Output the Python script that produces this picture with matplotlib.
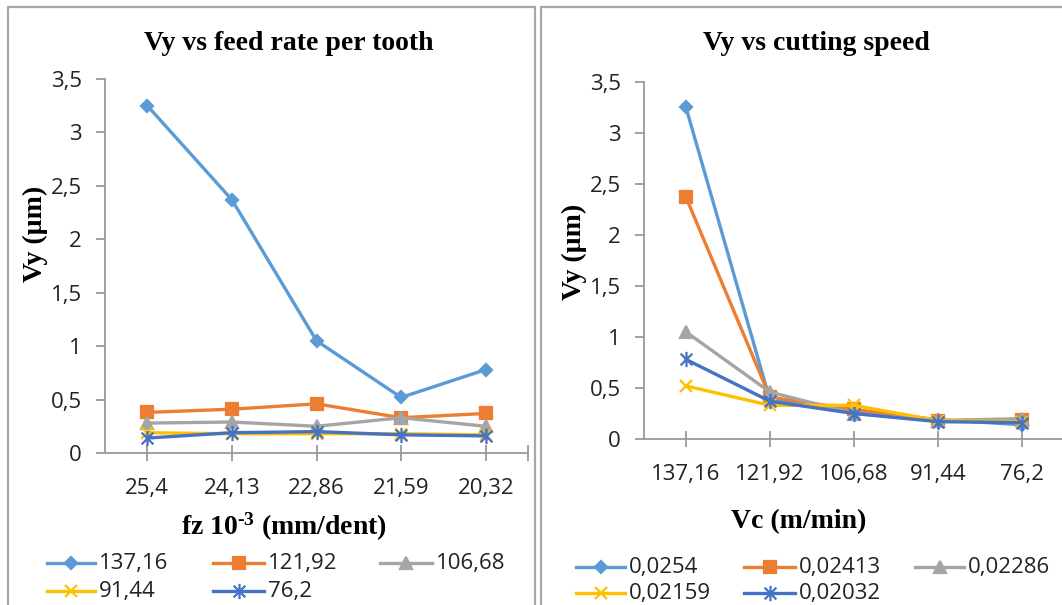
import matplotlib
matplotlib.use("Agg")
import matplotlib.pyplot as plt
from matplotlib.lines import Line2D
from matplotlib.patches import Rectangle
from matplotlib.path import Path

# ---- data -------------------------------------------------------------
feed_labels = ["25,4", "24,13", "22,86", "21,59", "20,32"]
speed_labels = ["137,16", "121,92", "106,68", "91,44", "76,2"]
feed_series_names = ["0,0254", "0,02413", "0,02286", "0,02159", "0,02032"]

# Vy (µm) for each cutting speed, across the feed rates
vy_137_16 = [3.25, 2.37, 1.05, 0.52, 0.78]
vy_121_92 = [0.38, 0.41, 0.46, 0.33, 0.37]
vy_106_68 = [0.28, 0.29, 0.25, 0.33, 0.25]
vy_91_44 = [0.19, 0.18, 0.18, 0.18, 0.17]
vy_76_2 = [0.14, 0.19, 0.20, 0.17, 0.16]

speed_series = [vy_137_16, vy_121_92, vy_106_68, vy_91_44, vy_76_2]
# the same measurements grouped by feed rate (one line per feed rate)
feed_series = [list(col) for col in zip(*speed_series)]

# ---- styling ------------------------------------------------------------
W, H = 1062, 605
colors = ["#5B9BD5", "#ED7D31", "#A5A5A5", "#FFC000", "#4472C4"]
star = Path([(-1, -1), (1, 1), (-1, 1), (1, -1), (0, -1.3), (0, 1.3)],
            [Path.MOVETO, Path.LINETO] * 3)
markers = ["D", "s", "^", "x", star]
msizes = [6.5, 8, 8, 8.5, 11]
axis_gray = "#9a9a9a"
serif = "Liberation Serif"
sans = "Open Sans"
TICK_FS = 16

plt.rcParams["mathtext.fontset"] = "custom"
plt.rcParams["mathtext.rm"] = "Liberation Serif:bold"
plt.rcParams["mathtext.bf"] = "Liberation Serif:bold"
plt.rcParams["mathtext.it"] = "Liberation Serif:bold"

fig = plt.figure(figsize=(W / 100, H / 100), dpi=100)


def fx(px):
    return px / W


def fy(py):
    return 1 - py / H


# chart-area frames
for x0, x1 in [(8, 535), (541, 1075)]:
    fig.add_artist(Rectangle((fx(x0), fy(620)), fx(x1 - x0), (620 - 7) / H,
                             transform=fig.transFigure, fill=False,
                             edgecolor="#a8a8a8", linewidth=1.6))


def style_axes(ax, labels):
    for s in ["top", "right"]:
        ax.spines[s].set_visible(False)
    for s in ["left", "bottom"]:
        ax.spines[s].set_color(axis_gray)
        ax.spines[s].set_linewidth(1.3)
    ax.set_xlim(-0.5, 4.5)
    ax.set_ylim(0, 3.5)
    ax.set_yticks([0, 0.5, 1, 1.5, 2, 2.5, 3, 3.5])
    ax.set_yticklabels(["0", "0,5", "1", "1,5", "2", "2,5", "3", "3,5"])
    ax.set_xticks(range(5))
    ax.set_xticklabels(labels)
    ax.tick_params(axis="y", direction="out", length=6.5, width=1.3,
                   color=axis_gray, pad=10, labelsize=TICK_FS,
                   labelcolor="#222222")
    ax.tick_params(axis="x", direction="inout", length=12, width=1.3,
                   color=axis_gray, pad=12, labelsize=TICK_FS,
                   labelcolor="#222222")
    for t in ax.get_xticklabels() + ax.get_yticklabels():
        t.set_fontfamily(sans)
    ax.patch.set_alpha(0)


def draw_lines(ax, series):
    for i, vals in enumerate(series):
        ax.plot(range(5), vals, color=colors[i], linewidth=2.4,
                marker=markers[i], markersize=msizes[i],
                markerfacecolor=colors[i], markeredgecolor=colors[i],
                markeredgewidth=1.6, zorder=3 + i, clip_on=False)


def legend_key(i, x0, x1, y, text):
    line = Line2D([fx(x0), fx(x1)], [fy(y), fy(y)], transform=fig.transFigure,
                  color=colors[i], linewidth=2.4)
    fig.add_artist(line)
    mk = Line2D([fx((x0 + x1) / 2)], [fy(y)], transform=fig.transFigure,
                marker=markers[i], markersize=msizes[i], color=colors[i],
                markeredgewidth=1.6, linestyle="none")
    fig.add_artist(mk)
    fig.text(fx(x1 + 4), fy(y), text, fontsize=TICK_FS, family=sans,
             color="#222222", va="center", ha="left")


# ---- left chart: Vy vs feed rate per tooth ---------------------------------
axl = fig.add_axes([fx(105), fy(453), fx(528 - 105), (453 - 79) / H])
style_axes(axl, feed_labels)
draw_lines(axl, speed_series)
axl.set_xticks([4.5], minor=True)
axl.tick_params(axis="x", which="minor", direction="inout", length=12,
                width=1.3, color=axis_gray)

fig.text(fx(289), fy(43), "Vy vs feed rate per tooth", family=serif,
         weight="bold", fontsize=20, ha="center", va="center")
fig.text(fx(35), fy(234), "Vy (µm)", family=serif, weight="bold",
         fontsize=20, rotation=90, ha="center", va="center")
fig.text(fx(284), fy(527), r"fz 10$^{\text{-3}}$ (mm/dent)", family=serif,
         weight="bold", fontsize=20, ha="center", va="center")

left_cols = [(47, 95), (213, 264), (380, 432)]
for i, name in enumerate(speed_labels):
    row, col = divmod(i, 3)
    x0, x1 = left_cols[col]
    legend_key(i, x0, x1, [563, 591][row], name)

# ---- right chart: Vy vs cutting speed ------------------------------------
axr = fig.add_axes([fx(644), fy(439), fx(1064 - 644), (439 - 82) / H])
style_axes(axr, speed_labels)
axr.spines["bottom"].set_bounds(-0.5, 4.6)
draw_lines(axr, feed_series)

fig.text(fx(816), fy(43), "Vy vs cutting speed", family=serif,
         weight="bold", fontsize=20, ha="center", va="center")
fig.text(fx(574), fy(252), "Vy (µm)", family=serif, weight="bold",
         fontsize=20, rotation=90, ha="center", va="center")
fig.text(fx(799), fy(522), "Vc (m/min)", family=serif, weight="bold",
         fontsize=20, ha="center", va="center")

right_cols = [(576, 625), (744, 795), (915, 964)]
for i, name in enumerate(feed_series_names):
    row, col = divmod(i, 3)
    x0, x1 = right_cols[col]
    legend_key(i, x0, x1, [567, 593][row], name)

fig.savefig("out.png", dpi=100)
